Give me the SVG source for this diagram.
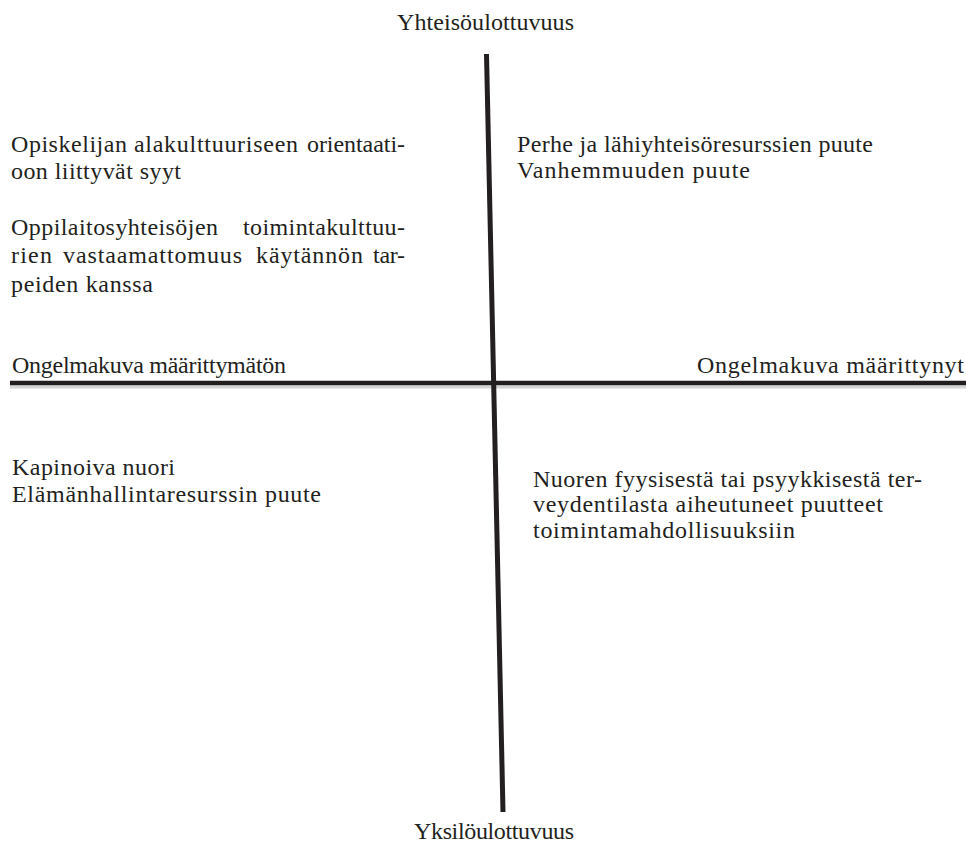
<svg xmlns="http://www.w3.org/2000/svg" width="966" height="847" viewBox="0 0 966 847" font-family="'Liberation Serif', 'Times New Roman', serif">
<style>
text{font-family:"Liberation Serif","Times New Roman",serif;font-size:24px;fill:#231f20}
.line{stroke:#231f20;fill:none}
</style>
<rect width="966" height="847" fill="#ffffff"/>
<g id="connectors">
<line x1="10" y1="387" x2="966" y2="387" stroke="#d4d4d4" stroke-width="3"/>
<line class="line" x1="10" y1="383" x2="966" y2="383" stroke-width="4.5"/>
<line class="line" x1="486.5" y1="54" x2="503" y2="812" stroke-width="5"/>
</g>
<g id="axis-top"><text x="397" y="30" textLength="177" lengthAdjust="spacing">Yhteisöulottuvuus</text></g>
<g id="axis-bottom"><text x="414" y="839" textLength="160" lengthAdjust="spacing">Yksilöulottuvuus</text></g>
<g id="axis-left"><text x="12" y="373" textLength="274" lengthAdjust="spacing">Ongelmakuva määrittymätön</text></g>
<g id="axis-right"><text x="697" y="373" textLength="267" lengthAdjust="spacing">Ongelmakuva määrittynyt</text></g>
<g id="node-top-left">
<text x="11" y="152" textLength="116" lengthAdjust="spacing">Opiskelijan</text>
<text x="134" y="152" textLength="164" lengthAdjust="spacing">alakulttuuriseen</text>
<text x="307" y="152" textLength="98" lengthAdjust="spacing">orientaati-</text>
<text x="11" y="179" textLength="170" lengthAdjust="spacing">oon liittyvät syyt</text>
<text x="11" y="235" textLength="207" lengthAdjust="spacing">Oppilaitosyhteisöjen</text>
<text x="243" y="235" textLength="162" lengthAdjust="spacing">toimintakulttuu-</text>
<text x="11" y="263" textLength="41" lengthAdjust="spacing">rien</text>
<text x="63" y="263" textLength="179" lengthAdjust="spacing">vastaamattomuus</text>
<text x="256" y="263" textLength="107" lengthAdjust="spacing">käytännön</text>
<text x="373" y="263" textLength="32" lengthAdjust="spacing">tar-</text>
<text x="11" y="292" textLength="142" lengthAdjust="spacing">peiden kanssa</text>
</g>
<g id="node-top-right">
<text x="517" y="152" textLength="356" lengthAdjust="spacing">Perhe ja lähiyhteisöresurssien puute</text>
<text x="517" y="178" textLength="233" lengthAdjust="spacing">Vanhemmuuden puute</text>
</g>
<g id="node-bottom-left">
<text x="12" y="475" textLength="163" lengthAdjust="spacing">Kapinoiva nuori</text>
<text x="12" y="502" textLength="309" lengthAdjust="spacing">Elämänhallintaresurssin puute</text>
</g>
<g id="node-bottom-right">
<text x="533" y="487" textLength="389" lengthAdjust="spacing">Nuoren fyysisestä tai psyykkisestä ter-</text>
<text x="533" y="512" textLength="350" lengthAdjust="spacing">veydentilasta aiheutuneet puutteet</text>
<text x="533" y="538" textLength="262" lengthAdjust="spacing">toimintamahdollisuuksiin</text>
</g>
</svg>
